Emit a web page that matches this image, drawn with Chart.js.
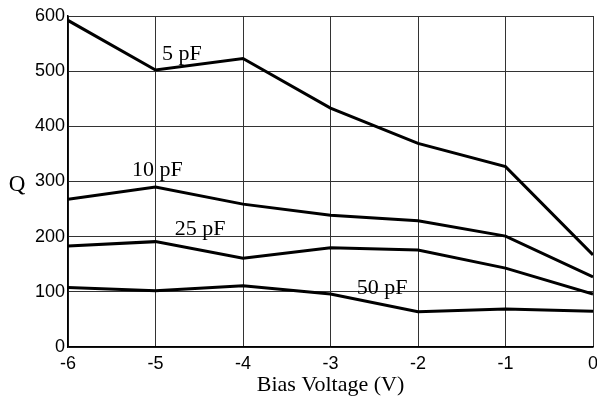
<!DOCTYPE html>
<html>
<head>
<meta charset="utf-8">
<script src="https://cdn.jsdelivr.net/npm/chart.js@4/dist/chart.umd.min.js"></script>
<style>
  html, body { margin: 0; padding: 0; background: #fff; }
  #wrap { width: 597px; height: 402px; }
</style>
</head>
<body>
<div id="wrap"><canvas id="qChart" width="597" height="402"></canvas></div>
<script>
// Bias voltage points (V)
const biasVoltage = [-6, -5, -4, -3, -2, -1, 0];

// Q values per capacitor
const q5pF  = [592, 502, 523, 433, 369, 327, 167];
const q10pF = [268, 290, 259, 239, 229, 201, 127];
const q25pF = [183, 191, 161, 180, 176, 143, 96];
const q50pF = [108, 102, 111, 96, 64, 69, 65];

const seriesNames = ['5 pF', '10 pF', '25 pF', '50 pF'];
// label anchor in data units [x, y]
const labelSpots = [[-4.7, 530], [-4.98, 320], [-4.49, 214], [-2.41, 106]];

const xTicks = [-6, -5, -4, -3, -2, -1, 0];
const yTicks = [0, 100, 200, 300, 400, 500, 600];

function toPoints(vals) {
  return vals.map((v, i) => ({ x: biasVoltage[i], y: v }));
}

// draws the series names and the "Q" axis label
const textPlugin = {
  id: 'textPlugin',
  afterDatasetsDraw(chart) {
    const c = chart.ctx;
    const xs = chart.scales.x, ys = chart.scales.y;
    c.save();
    c.fillStyle = '#000';
    c.font = '22px "Liberation Serif", "Times New Roman", serif';
    c.textAlign = 'center';
    c.textBaseline = 'middle';
    seriesNames.forEach((name, i) => {
      c.fillText(name, xs.getPixelForValue(labelSpots[i][0]), ys.getPixelForValue(labelSpots[i][1]));
    });
    c.font = '23px "Liberation Serif", "Times New Roman", serif';
    c.fillText('Q', 17, ys.getPixelForValue(294));
    c.restore();
  }
};

const ctx = document.getElementById('qChart').getContext('2d');
const qChart = new Chart(ctx, {
  type: 'line',
  data: {
    datasets: [
      { label: '5 pF', data: toPoints(q5pF) },
      { label: '10 pF', data: toPoints(q10pF) },
      { label: '25 pF', data: toPoints(q25pF) },
      { label: '50 pF', data: toPoints(q50pF) }
    ].map(ds => Object.assign(ds, {
      borderColor: '#000', borderWidth: 3, pointRadius: 0, tension: 0, fill: false
    }))
  },
  options: {
    responsive: false,
    animation: false,
    events: [],
    layout: { padding: { top: 16, right: 4, left: 0, bottom: 0 } },
    plugins: { legend: { display: false }, tooltip: { enabled: false } },
    scales: {
      x: {
        type: 'linear', min: -6, max: 0,
        afterBuildTicks: s => { s.ticks = xTicks.map(v => ({ value: v })); },
        afterFit: s => { s.height = 55; s.paddingLeft = 0; s.paddingRight = 0; },
        grid: { color: '#333', lineWidth: 1, drawTicks: false },
        border: { color: '#000', width: 1.5 },
        ticks: {
          color: '#000', padding: 6,
          font: { family: '"Liberation Sans", Arial, sans-serif', size: 18 }
        },
        title: {
          display: true, text: 'Bias Voltage (V)', color: '#000', padding: { top: 0 },
          font: { family: '"Liberation Serif", "Times New Roman", serif', size: 22 }
        }
      },
      y: {
        min: 0, max: 600,
        afterBuildTicks: s => { s.ticks = yTicks.map(v => ({ value: v })); },
        afterFit: s => { s.width = 68; s.paddingTop = 0; s.paddingBottom = 0; },
        grid: { color: '#333', lineWidth: 1, drawTicks: false },
        border: { color: '#000', width: 1.5 },
        ticks: {
          color: '#000', padding: 3,
          font: { family: '"Liberation Sans", Arial, sans-serif', size: 18 }
        }
      }
    }
  },
  plugins: [textPlugin]
});
</script>
</body>
</html>
